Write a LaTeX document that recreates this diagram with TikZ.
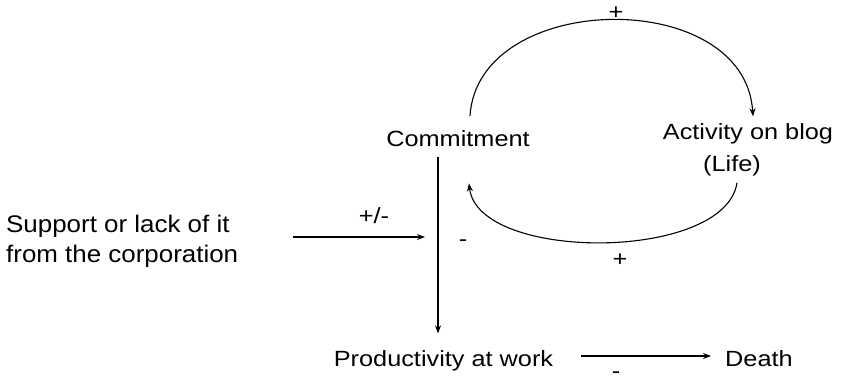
\documentclass[tikz,border=0pt]{standalone}
\usepackage{fontspec}
\setmainfont[FakeStretch=1.15]{Liberation Sans}
\newfontfamily\supfont[FakeStretch=1.08]{Liberation Sans}
\usetikzlibrary{arrows.meta,calc}
\begin{document}
\begin{tikzpicture}[x=1pt,y=-1pt,
  lbl/.style={inner sep=0pt,font=\fontsize{22}{30}\selectfont},
  suplbl/.style={inner sep=0pt,font=\supfont\fontsize{24}{30}\selectfont},
  conn/.style={line width=1.1pt,-{Stealth[length=8pt,width=6pt]}},
]
\useasboundingbox (0,0) rectangle (841,382);
\fill[white] (0,0) rectangle (841,382);
% nodes
\node[lbl,anchor=base] (comm) at (458,147) {Commitment};
\node[lbl,anchor=base] (act) at (748,140) {Activity on blog};
\node[lbl,anchor=base] (life) at (732,172) {(Life)};
\node[suplbl,anchor=base west,align=left] (sup) at (6,263) {Support or lack of it\\from the corporation};
\node[lbl,anchor=base] (prod) at (443.5,366) {Productivity at work};
\node[lbl,anchor=base west] (death) at (725,366) {Death};
% labels
\node[lbl] (ptop) at (616,13) {+};
\node[lbl] (pbot) at (620,260) {+};
\node[lbl] (mvert) at (463,243) {-};
\node[lbl] (pm) at (374,216) {+/-};
\node[lbl] (mdeath) at (616,375) {-};
% free ends of the support arrow
\coordinate (sin) at (425,237);
\coordinate (sout) at (293,237);
% connectors
\draw[conn] ([xshift=12pt,yshift=15pt]comm.north) .. controls (478,-10) and (745,-14) .. ([xshift=5pt,yshift=7.5pt]act.north);
\draw[conn] ([xshift=5pt,yshift=-6pt]life.south) .. controls (725,262) and (478,262) .. ([xshift=11pt,yshift=-36pt]comm.south);
\draw[conn] ([xshift=-20pt,yshift=-10pt]comm.south) -- ([xshift=-5.5pt,yshift=16.5pt]prod.north);
\draw[conn] (sout) -- (sin);
\draw[conn] ([xshift=28pt]prod.east |- 0,356) -- ([xshift=-14pt]death.west |- 0,356);
\end{tikzpicture}
\end{document}
